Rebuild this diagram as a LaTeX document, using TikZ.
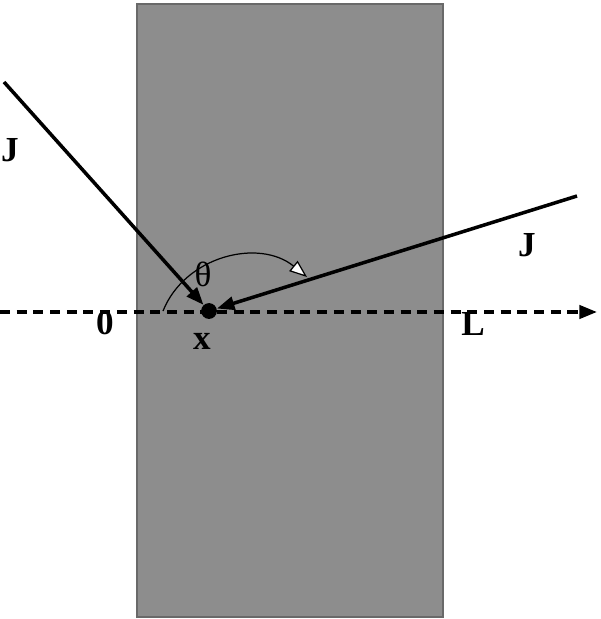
\documentclass[tikz,border=0pt]{standalone}
\usepackage{fontspec}
\setmainfont{Liberation Serif}
\usetikzlibrary{arrows.meta,positioning}
\definecolor{slabgray}{RGB}{141,141,141}
\definecolor{slabedge}{RGB}{105,105,105}

\begin{document}
\begin{tikzpicture}[x=0.02cm, y=-0.02cm,
    lbl/.style={font=\bfseries\fontsize{20}{20}\selectfont},
    ray/.style={line width=2pt, -{Triangle[length=10pt, width=7.5pt]}}]
    \useasboundingbox (0,0) rectangle (600,619);

    % The slab
    \fill[slabgray] (137,4) rectangle (443,617);
    \draw[slabedge, line width=0.6pt] (137,4) rectangle (443,617);

    % Axis through the slab
    \coordinate (axstart) at (0,312);
    \coordinate (axend) at (597,312);
    \draw[line width=2pt, dash pattern=on 5.7pt off 3.8pt, -{Triangle[length=10pt, width=7.5pt]}] (axstart) -- (axend);

    % Point x
    \node[circle, fill=black, inner sep=0pt, minimum size=9pt] (xpt) at (209,311) {};

    % Incoming and outgoing rays
    \coordinate (jleft) at (4,82);
    \coordinate (jright) at (577,196);
    \draw[ray] (jleft) -- (xpt);
    \draw[ray] (jright) -- (xpt);

    % Angle arc
    \coordinate (arcstart) at (163,311);
    \coordinate (arcend) at (307,277);
    \draw[line width=0.7pt, -{Triangle[open, fill=white, length=10pt, width=7.5pt]}]
        (arcstart) .. controls (185,256) and (259,238) .. (arcend);

    % Labels
    \node[lbl] (jl) at (10,150) {J};
    \node[lbl] (jr) at (527,245) {J};
    \node[lbl] (zero) at (105,323) {0};
    \node[lbl] (ell) at (473,324) {L};
    \node[lbl] (xl) at (202,341) {x};
    \node[font=\fontsize{20}{20}\selectfont] (th) at (203,274) {θ};
\end{tikzpicture}
\end{document}
